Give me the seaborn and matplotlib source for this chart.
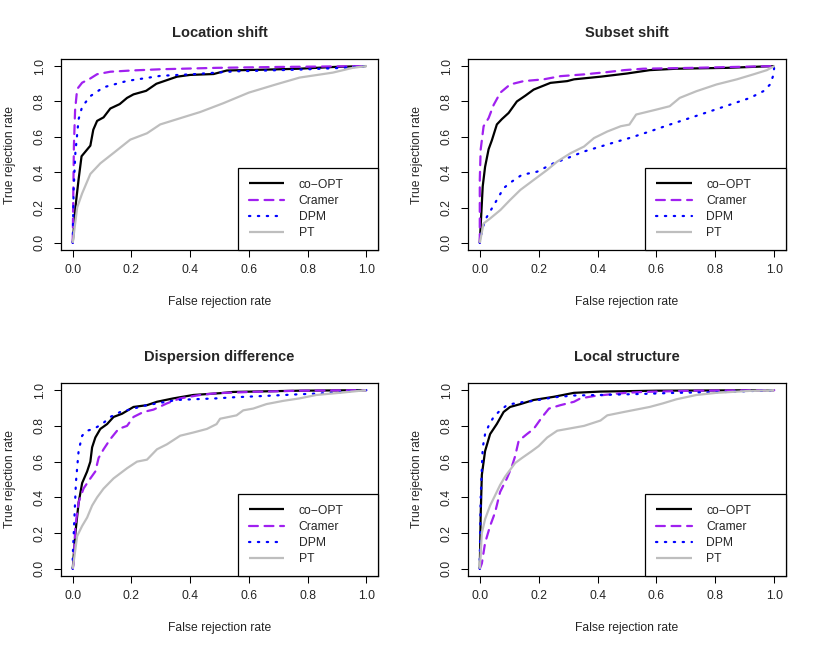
import seaborn as sns
import matplotlib
matplotlib.use("Agg")
import matplotlib.pyplot as plt

# ROC curves (false rejection rate -> true rejection rate)
methods = ["co\u2212OPT", "Cramer", "DPM", "PT"]
panel_titles = ["Location shift", "Subset shift", "Dispersion difference", "Local structure"]
ticks = [0.0, 0.2, 0.4, 0.6, 0.8, 1.0]
tick_labels = ["0.0", "0.2", "0.4", "0.6", "0.8", "1.0"]

# Location shift
loc_coopt_x = [0, 0.009, 0.02, 0.03, 0.05, 0.06, 0.07, 0.083, 0.105, 0.128, 0.16, 0.185, 0.207, 0.25, 0.285, 0.32, 0.355, 0.40, 0.48, 0.525, 0.66, 0.77, 0.89, 1.0]
loc_coopt_y = [0, 0.2, 0.36, 0.49, 0.53, 0.55, 0.64, 0.69, 0.71, 0.76, 0.785, 0.82, 0.84, 0.86, 0.9, 0.92, 0.94, 0.95, 0.955, 0.975, 0.98, 0.985, 0.995, 1.0]
loc_cramer_x = [0, 0.002, 0.004, 0.008, 0.015, 0.032, 0.06, 0.083, 0.128, 0.2, 0.3, 0.49, 0.7, 1.0]
loc_cramer_y = [0, 0.3, 0.55, 0.75, 0.87, 0.906, 0.93, 0.954, 0.968, 0.975, 0.982, 0.99, 0.995, 1.0]
loc_dpm_x = [0, 0.003, 0.009, 0.02, 0.032, 0.06, 0.105, 0.185, 0.3, 0.41, 0.49, 0.55, 0.77, 0.92, 1.0]
loc_dpm_y = [0, 0.3, 0.51, 0.7, 0.77, 0.83, 0.88, 0.916, 0.945, 0.954, 0.963, 0.97, 0.98, 0.99, 1.0]
loc_pt_x = [0, 0.015, 0.032, 0.06, 0.094, 0.14, 0.196, 0.253, 0.298, 0.389, 0.434, 0.513, 0.6, 0.694, 0.773, 0.886, 0.954, 1.0]
loc_pt_y = [0, 0.2, 0.28, 0.39, 0.45, 0.51, 0.584, 0.62, 0.67, 0.717, 0.74, 0.79, 0.85, 0.897, 0.935, 0.963, 0.99, 1.0]

# Subset shift
sub_coopt_x = [0, 0.01, 0.018, 0.03, 0.041, 0.058, 0.075, 0.098, 0.126, 0.155, 0.183, 0.24, 0.297, 0.32, 0.41, 0.5, 0.577, 0.668, 0.84, 1.0]
sub_coopt_y = [0, 0.32, 0.43, 0.53, 0.58, 0.67, 0.70, 0.735, 0.80, 0.833, 0.867, 0.905, 0.915, 0.925, 0.94, 0.958, 0.977, 0.985, 0.99, 1.0]
sub_cramer_x = [0, 0, 0.003, 0.013, 0.03, 0.047, 0.07, 0.103, 0.149, 0.217, 0.274, 0.354, 0.433, 0.49, 0.554, 0.725, 1.0]
sub_cramer_y = [0, 0.356, 0.527, 0.66, 0.706, 0.78, 0.85, 0.896, 0.915, 0.925, 0.943, 0.953, 0.966, 0.977, 0.985, 0.99, 1.0]
sub_dpm_x = [0, 0.007, 0.018, 0.041, 0.058, 0.081, 0.109, 0.143, 0.195, 0.25, 0.297, 0.354, 0.41, 0.468, 0.508, 0.577, 0.645, 0.713, 0.782, 0.85, 0.918, 0.963, 0.986, 0.998, 1.0]
sub_dpm_y = [0, 0.063, 0.13, 0.195, 0.243, 0.31, 0.347, 0.385, 0.403, 0.45, 0.479, 0.517, 0.545, 0.574, 0.593, 0.63, 0.669, 0.706, 0.744, 0.782, 0.82, 0.858, 0.896, 0.953, 1.0]
sub_pt_x = [0, 0.013, 0.035, 0.07, 0.103, 0.138, 0.183, 0.229, 0.263, 0.308, 0.354, 0.388, 0.433, 0.479, 0.508, 0.531, 0.6, 0.645, 0.679, 0.736, 0.804, 0.873, 0.929, 0.975, 1.0]
sub_pt_y = [0, 0.11, 0.138, 0.186, 0.243, 0.30, 0.356, 0.413, 0.46, 0.507, 0.545, 0.593, 0.63, 0.66, 0.669, 0.726, 0.754, 0.773, 0.82, 0.858, 0.896, 0.925, 0.953, 0.977, 1.0]

# Dispersion difference
disp_coopt_x = [0, 0.009, 0.02, 0.032, 0.049, 0.06, 0.066, 0.077, 0.094, 0.117, 0.139, 0.168, 0.207, 0.253, 0.287, 0.343, 0.411, 0.502, 0.547, 0.773, 1.0]
disp_coopt_y = [0, 0.2, 0.37, 0.48, 0.545, 0.60, 0.68, 0.735, 0.783, 0.81, 0.85, 0.868, 0.906, 0.916, 0.935, 0.954, 0.973, 0.983, 0.99, 0.997, 1.0]
disp_cramer_x = [0, 0.003, 0.009, 0.02, 0.037, 0.06, 0.077, 0.088, 0.105, 0.128, 0.156, 0.185, 0.207, 0.241, 0.275, 0.321, 0.366, 0.434, 0.49, 0.604, 0.773, 1.0]
disp_cramer_y = [0, 0.03, 0.24, 0.373, 0.45, 0.506, 0.545, 0.62, 0.669, 0.726, 0.783, 0.80, 0.85, 0.878, 0.891, 0.926, 0.954, 0.973, 0.983, 0.99, 0.997, 1.0]
disp_dpm_x = [0, 0, 0.006, 0.011, 0.02, 0.032, 0.049, 0.071, 0.1, 0.128, 0.162, 0.207, 0.253, 0.298, 0.355, 0.411, 0.49, 0.547, 0.66, 0.773, 0.887, 1.0]
disp_dpm_y = [0, 0.07, 0.297, 0.487, 0.66, 0.745, 0.773, 0.783, 0.81, 0.85, 0.878, 0.897, 0.916, 0.929, 0.945, 0.949, 0.954, 0.96, 0.968, 0.977, 0.985, 1.0]
disp_pt_x = [0, 0.015, 0.032, 0.049, 0.066, 0.083, 0.105, 0.139, 0.185, 0.219, 0.253, 0.287, 0.321, 0.366, 0.411, 0.457, 0.49, 0.502, 0.558, 0.581, 0.615, 0.66, 0.717, 0.773, 0.83, 0.909, 1.0]
disp_pt_y = [0, 0.183, 0.24, 0.287, 0.354, 0.40, 0.449, 0.506, 0.563, 0.60, 0.611, 0.669, 0.697, 0.745, 0.763, 0.783, 0.81, 0.84, 0.859, 0.887, 0.897, 0.922, 0.94, 0.954, 0.973, 0.985, 1.0]

# Local structure
locs_coopt_x = [0, 0.003, 0.007, 0.018, 0.035, 0.058, 0.081, 0.103, 0.138, 0.183, 0.252, 0.32, 0.41, 0.6, 1.0]
locs_coopt_y = [0, 0.297, 0.526, 0.659, 0.754, 0.811, 0.878, 0.906, 0.922, 0.945, 0.963, 0.985, 0.992, 0.997, 1.0]
locs_cramer_x = [0, 0.007, 0.018, 0.035, 0.052, 0.069, 0.092, 0.109, 0.12, 0.132, 0.16, 0.183, 0.212, 0.235, 0.274, 0.32, 0.342, 0.388, 0.456, 0.5, 0.554, 0.725, 1.0]
locs_cramer_y = [0, 0.03, 0.145, 0.24, 0.316, 0.43, 0.506, 0.573, 0.63, 0.716, 0.754, 0.783, 0.85, 0.897, 0.916, 0.935, 0.954, 0.967, 0.979, 0.985, 0.99, 0.997, 1.0]
locs_dpm_x = [0, 0, 0.003, 0.007, 0.01, 0.018, 0.03, 0.047, 0.064, 0.092, 0.126, 0.183, 0.252, 0.32, 0.41, 0.554, 0.668, 0.839, 1.0]
locs_dpm_y = [0, 0.05, 0.39, 0.563, 0.678, 0.754, 0.80, 0.85, 0.878, 0.916, 0.929, 0.94, 0.96, 0.97, 0.973, 0.979, 0.985, 0.99, 1.0]
locs_pt_x = [0, 0.007, 0.018, 0.035, 0.052, 0.069, 0.086, 0.103, 0.12, 0.143, 0.177, 0.2, 0.229, 0.263, 0.297, 0.354, 0.41, 0.433, 0.49, 0.577, 0.622, 0.668, 0.736, 0.804, 0.918, 1.0]
locs_pt_y = [0, 0.20, 0.278, 0.354, 0.411, 0.469, 0.516, 0.554, 0.592, 0.62, 0.659, 0.687, 0.735, 0.773, 0.783, 0.80, 0.83, 0.859, 0.878, 0.906, 0.926, 0.949, 0.973, 0.985, 0.996, 1.0]

panels = [
    [(loc_coopt_x, loc_coopt_y), (loc_cramer_x, loc_cramer_y), (loc_dpm_x, loc_dpm_y), (loc_pt_x, loc_pt_y)],
    [(sub_coopt_x, sub_coopt_y), (sub_cramer_x, sub_cramer_y), (sub_dpm_x, sub_dpm_y), (sub_pt_x, sub_pt_y)],
    [(disp_coopt_x, disp_coopt_y), (disp_cramer_x, disp_cramer_y), (disp_dpm_x, disp_dpm_y), (disp_pt_x, disp_pt_y)],
    [(locs_coopt_x, locs_coopt_y), (locs_cramer_x, locs_cramer_y), (locs_dpm_x, locs_dpm_y), (locs_pt_x, locs_pt_y)],
]

colors = ["black", "#A020F0", "#0000FF", "#BEBEBE"]
styles = ["-", (0, (4, 3)), (0, (0.6, 3.4)), "-"]
caps = ["butt", "round", "round", "butt"]

sns.set_style("white")
plt.rcParams["font.family"] = ["Liberation Sans", "DejaVu Sans"]
fs = 8.75

W, H = 817, 651
fig = plt.figure(figsize=(W / 100, H / 100), dpi=100)

# axes boxes in pixels: left, top, right, bottom
boxes = [(61, 59, 378, 250), (468, 59, 786, 250), (61, 383, 378, 576), (468, 383, 786, 576)]

for i, (l, t, r, b) in enumerate(boxes):
    ax = fig.add_axes([l / W, 1 - b / H, (r - l) / W, (b - t) / H])
    for j, (xs, ys) in enumerate(panels[i]):
        sns.lineplot(x=xs, y=ys, ax=ax, color=colors[j], linewidth=1.6,
                     linestyle=styles[j], estimator=None, sort=False,
                     label=methods[j], solid_capstyle="butt", dash_capstyle=caps[j])
    ax.set_xlim(-0.04, 1.04)
    ax.set_ylim(-0.04, 1.04)
    ax.set_xticks(ticks)
    ax.set_xticklabels(tick_labels, fontsize=fs)
    ax.set_yticks(ticks)
    ax.set_yticklabels(tick_labels, fontsize=fs, rotation=90, va="center")
    ax.tick_params(axis="both", direction="out", length=5, width=0.75, color="black",
                   bottom=True, left=True)
    ax.tick_params(axis="x", pad=5)
    ax.tick_params(axis="y", pad=6)
    for sp in ax.spines.values():
        sp.set_visible(True)
        sp.set_color("black")
        sp.set_linewidth(0.9)
    ax.set_title(panel_titles[i], fontsize=10.5, fontweight="bold", pad=16)
    ax.set_xlabel("False rejection rate", fontsize=fs, va="center")
    ax.set_ylabel("True rejection rate", fontsize=fs, va="center")
    ax.xaxis.set_label_coords(0.5, -52 / (b - t))
    ax.yaxis.set_label_coords(-51 / (r - l), 0.5)
    leg = ax.legend(loc="lower right", bbox_to_anchor=(0.558, 0, 0.442, 0.42), mode="expand",
                    borderaxespad=0, fontsize=fs, frameon=True, fancybox=False,
                    handlelength=2.9, handletextpad=1.2, labelspacing=0.34, borderpad=0.9)
    fr = leg.get_frame()
    fr.set_edgecolor("black")
    fr.set_linewidth(0.9)
    fr.set_alpha(1)

fig.savefig("out.png", dpi=100)
